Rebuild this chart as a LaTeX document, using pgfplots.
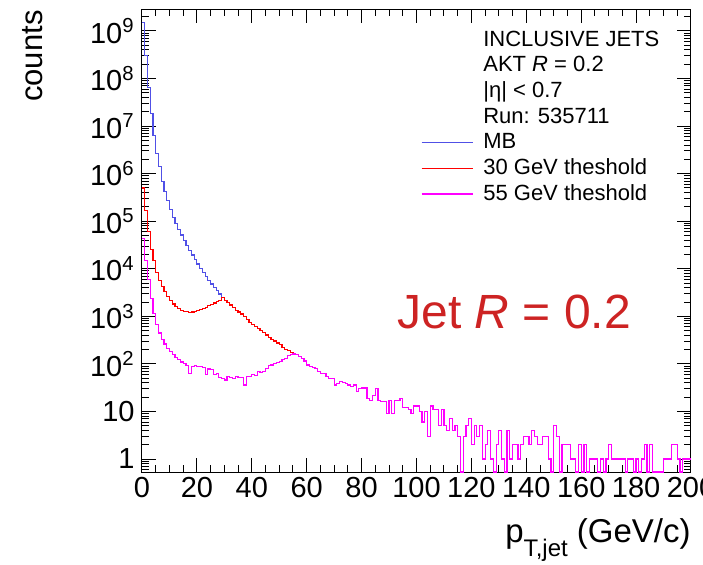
\documentclass[border=0pt]{standalone}
\usepackage{fontspec}
\setmainfont{Liberation Sans}
\usepackage{pgfplots}
\pgfplotsset{compat=1.18}
\definecolor{mbblue}{RGB}{80,80,230}
\definecolor{trigred}{RGB}{255,0,0}
\definecolor{trigmag}{RGB}{255,0,255}
\definecolor{jetred}{RGB}{205,35,35}
\begin{document}
\begin{tikzpicture}
\useasboundingbox (-71pt,-46pt) rectangle (280.5pt,236pt);
\begin{axis}[
  at={(0pt,0pt)}, anchor=south west,
  scale only axis, width=274.5pt, height=231.5pt,
  xmin=0, xmax=200, ymode=log, ymin=0.533, ymax=2.9e9,
  axis line style={line width=0.5pt, black},
  tick style={line width=0.5pt, black},
  tick align=inside,
  major tick length=7pt, minor tick length=3.5pt,
  xtick={0,20,40,60,80,100,120,140,160,180,200},
  xticklabels={0,20,40,60,80,100,120,140,160,180,200},
  minor x tick num=3,
  ytick={1,10,100,1000,1e4,1e5,1e6,1e7,1e8,1e9},
  yticklabels={1,10,10\textsuperscript{2},10\textsuperscript{3},10\textsuperscript{4},10\textsuperscript{5},10\textsuperscript{6},10\textsuperscript{7},10\textsuperscript{8},10\textsuperscript{9}},
  minor ytick={0.6,0.7,0.8,0.9,2,3,4,5,6,7,8,9,20,30,40,50,60,70,80,90,200,300,400,500,600,700,800,900,2e3,3e3,4e3,5e3,6e3,7e3,8e3,9e3,2e4,3e4,4e4,5e4,6e4,7e4,8e4,9e4,2e5,3e5,4e5,5e5,6e5,7e5,8e5,9e5,2e6,3e6,4e6,5e6,6e6,7e6,8e6,9e6,2e7,3e7,4e7,5e7,6e7,7e7,8e7,9e7,2e8,3e8,4e8,5e8,6e8,7e8,8e8,9e8,2e9},
  ticklabel style={font=\fontsize{14.5}{16}\selectfont},
  xticklabel style={inner sep=0pt, yshift=-2.5pt},
  yticklabel style={inner sep=0pt, xshift=-3.5pt},
  xlabel={p\raisebox{-7pt}{\fontsize{12}{14}\selectfont T,jet}\ (GeV/c)},
  xlabel style={at={(axis description cs:1,-0.1533)}, anchor=base east, inner sep=0pt, font=\fontsize{16.5}{19}\selectfont},
  ylabel={counts},
  ylabel style={at={(axis description cs:-0.1821,0.9978)}, anchor=base east, inner sep=0pt, font=\fontsize{15.5}{18}\selectfont},
  legend cell align=left,
  legend style={at={(0.5077,0.9553)}, anchor=north west, draw=none, fill=none, inner sep=0pt,
    font=\fontsize{11}{13}\selectfont, row sep=2.825pt, column sep=5pt,
    nodes={inner sep=0pt, text height=8pt, text depth=2pt}},
  legend image code/.code={\draw[#1] (0pt,0pt) -- (25.5pt,0pt); \path[draw=none,fill=none] (12pt,5pt);},
]
\addlegendimage{empty legend}\addlegendentry{INCLUSIVE JETS}
\addlegendimage{empty legend}\addlegendentry{AKT \textit{R} = 0.2}
\addlegendimage{empty legend}\addlegendentry{|η| < 0.7}
\addlegendimage{empty legend}\addlegendentry{Run: 535711}

\addplot[const plot, mbblue, line width=0.6pt] coordinates {
(0,1.51e9) (1,3.09e8) (2,6.46e7) (3,1.86e7) (4,6.46e6) (5,2.69e6) (6,1.41e6) (7,6.76e5) (8,4.17e5) (9,2.75e5)
(10,1.78e5) (11,1.20e5) (12,8.91e4) (13,6.61e4) (14,5.13e4) (15,3.98e4) (16,3.09e4) (17,2.45e4) (18,1.95e4) (19,1.55e4)
(20,1.26e4) (21,1.02e4) (22,8320) (23,6920) (24,5750) (25,4790) (26,3980) (27,3470) (28,2950) (29,2510)
(30,2190) (31,2190)};
\addlegendentry{MB}

\addplot[const plot, trigred, line width=0.6pt] coordinates {
(0,5.0e5) (1,1.66e5) (2,6.03e4) (3,2.57e4) (4,1.48e4) (5,8320) (6,5750) (7,4170) (8,3310) (9,2570)
(10,2190) (11,1820) (12,1580) (13,1480) (14,1320) (15,1260) (16,1260) (17,1200) (18,1230) (19,1260)
(20,1320) (21,1410) (22,1480) (23,1550) (24,1660) (25,1780) (26,1910) (27,2040) (28,2190) (29,2510)
(30,2190) (31,1950) (32,1740) (33,1510) (34,1350) (35,1230) (36,1120) (37,977) (38,851) (39,741)
(40,661) (41,603) (42,550) (43,501) (44,457) (45,407) (46,355) (47,331) (48,302) (49,275)
(50,251) (51,224) (52,204) (53,191) (54,174) (55,162) (56,162)};
\addlegendentry{30 GeV theshold}

\addplot[const plot, trigmag, line width=0.6pt] coordinates {
(0,43700) (1,15100) (2,5890) (3,2400) (4,1150) (5,676) (6,447) (7,331) (8,263) (9,214)
(10,182) (11,158) (12,138) (13,123) (14,110) (15,100) (16,91) (17,63) (18,89) (19,91)
(20,89) (21,87) (22,85) (23,59) (24,78) (25,76) (26,59) (27,63) (28,52) (29,50)
(30,46) (31,55) (32,52) (33,50) (34,55) (35,51) (36,52) (37,36) (38,55) (39,55)
(40,59) (41,58) (42,69) (43,66) (44,69) (45,79) (46,91) (47,95) (48,102) (49,107)
(50,112) (51,123) (52,132) (53,148) (54,155) (55,162) (56,155) (57,141) (58,132) (59,115)
(60,95) (61,87) (62,83) (63,81) (64,69) (65,63) (66,63) (67,54) (68,50) (69,50)
(70,36) (71,39) (72,43) (73,41) (74,39) (75,36) (76,33) (77,36) (78,26) (79,30)
(80,31) (81,31) (82,19) (83,17) (84,22) (85,30) (86,17) (87,16) (88,16) (89,9)
(90,17) (91,9) (92,17) (93,17) (94,19) (95,12) (96,12) (97,11) (98,9) (99,13)
(100,13) (101,10) (102,6) (103,10) (104,3) (105,13) (106,11) (107,11) (108,5) (109,11)
(110,5) (111,4) (112,7) (113,4) (114,5) (115,3) (116,0.533) (117,3) (118,5) (119,7)
(120,2) (121,5) (122,3) (123,5) (124,1) (125,2) (126,4) (127,1) (128,0.533) (129,2)
(130,4) (131,1) (132,0.533) (133,4) (134,1) (135,2) (136,2) (137,1) (138,2) (139,3)
(140,3) (141,2) (142,4) (143,3) (144,2) (145,2) (146,3) (147,3) (148,1) (149,0.533)
(150,5) (151,3) (152,0.533) (153,2) (154,2) (155,2) (156,1) (157,1) (158,0.533) (159,2)
(160,0.533) (161,2) (162,0.533) (163,1) (164,1) (165,1) (166,0.533) (167,1) (168,0.533) (169,1)
(170,2) (171,1) (172,1) (173,1) (174,1) (175,1) (176,0.533) (177,1) (178,1) (179,0.533)
(180,1) (181,0.533) (182,1) (183,2) (184,0.533) (185,2) (186,0.533) (187,0.533) (188,0.533) (189,0.533)
(190,1) (191,1) (192,1) (193,2) (194,2) (195,1) (196,0.533) (197,1) (198,1) (199,1)
(200,1)};
\addlegendentry{55 GeV theshold}

\node[anchor=base west, inner sep=0pt, text=jetred, font=\fontsize{24}{28}\selectfont] at (rel axis cs:0.4645,0.311) {Jet \textit{R} = 0.2};
\end{axis}
\end{tikzpicture}
\end{document}
